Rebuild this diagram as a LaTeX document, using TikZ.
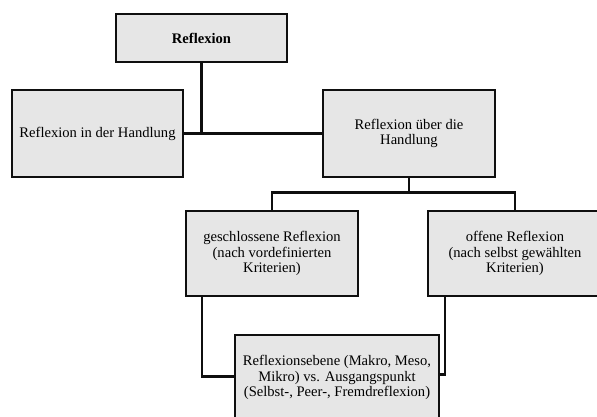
\documentclass[tikz,border=0pt]{standalone}
\usepackage{fontspec}
\setmainfont{Liberation Serif}
\definecolor{boxfill}{RGB}{230,230,230}
\definecolor{edge}{RGB}{15,15,15}
\begin{document}
\begin{tikzpicture}[x=1pt,y=-1pt,
  box/.style={draw=edge, line width=2.1pt, fill=boxfill, rectangle, inner sep=0pt,
    align=center, font=\fontsize{14.6}{15.6}\selectfont},
  conn/.style={draw=edge, line width=2.1pt}]
\useasboundingbox (0,0) rectangle (597,417);
\clip (0,0) rectangle (597,417);
\fill[white] (0,0) rectangle (597,417);
\node[box, minimum width=171pt, minimum height=48pt] (top) at (201.5,38) {\textbf{Reflexion}};
\node[box, minimum width=171pt, minimum height=87pt] (left) at (97.5,133.5) {Reflexion in der Handlung};
\node[box, minimum width=172pt, minimum height=87pt] (right) at (409,133.5) {Reflexion über die\\Handlung};
\node[box, minimum width=172pt, minimum height=85pt] (g) at (272,253.5) {geschlossene Reflexion\\(nach vordefinierten\\Kriterien)};
\node[box, minimum width=174pt, minimum height=85pt] (o) at (515,253.5) {offene Reflexion\\(nach selbst gewählten\\Kriterien)};
\node[box, minimum width=204pt, minimum height=85pt] (b) at (337,377.5) {Reflexionsebene (Makro, Meso,\\Mikro) vs. Ausgangspunkt\\(Selbst-, Peer-, Fremdreflexion)};
\coordinate (m) at (409,192.5);
\draw[conn] (top.south) -- (top.south |- left.east);
\draw[conn] (left.east) -- (right.west);
\draw[conn] (right.south) -- (m);
\draw[conn] (g.north) |- (m) -| (o.north);
\draw[conn] ([xshift=17pt]g.south west) |- ([yshift=1pt]b.west);
\draw[conn] ([xshift=18pt]o.south west) |- ([yshift=3pt]b.east);
\end{tikzpicture}
\end{document}
